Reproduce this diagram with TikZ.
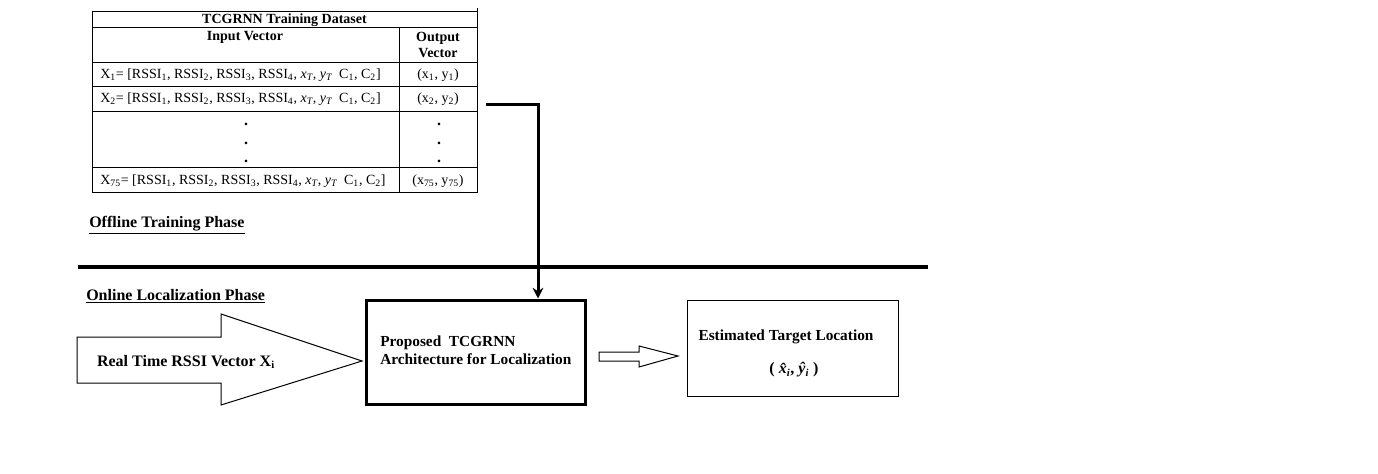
\documentclass[tikz,border=0pt]{standalone}
\usepackage{fontspec}
\setmainfont{Liberation Serif}
\usetikzlibrary{positioning, arrows.meta, calc}

\newcommand{\rssirow}[1]{X\textsubscript{#1}= [RSSI\textsubscript{1}, RSSI\textsubscript{2}, RSSI\textsubscript{3}, RSSI\textsubscript{4}, \textit{x\textsubscript{T}}, \textit{y\textsubscript{T}}~ C\textsubscript{1}, C\textsubscript{2}]}
\newcommand{\estpoint}{(~\textit{\^{x}\textsubscript{i}},~\textit{\^{y}\textsubscript{i}}~)}

\begin{document}
\begin{tikzpicture}[
    x=0.75pt, y=-0.75pt,
    grid/.style={line width=0.75pt},
    cell/.style={inner sep=0pt, font=\fontsize{10.5}{12}\selectfont},
    heading/.style={inner sep=0pt, align=center, font=\fontsize{10.5}{12}\selectfont\bfseries},
    phase/.style={inner sep=0pt, anchor=west, font=\fontsize{12}{14}\selectfont\bfseries},
    boxtext/.style={inner sep=0pt, font=\fontsize{11.5}{13.5}\selectfont\bfseries},
    block/.style={draw, line width=0.75pt},
    conn/.style={line width=2.25pt, -{Stealth[length=8pt, width=8pt]}}
]
    \useasboundingbox (0,0) rectangle (1378,474);

    % Training Dataset Table
    \draw[grid] (92,12) rectangle (477,193);
    \draw[grid] (477,8) -- (477,12);
    \foreach \y in {28,63,87,112,168}
        \draw[grid] (92,\y) -- (477,\y);
    \draw[grid] (399,28) -- (399,193);

    \node[heading] (title) at (284.5,20) {TCGRNN Training Dataset};
    \node[heading] (invec) at (245,37) {Input Vector};
    \node[heading] (outvec) at (438,45) {Output\\Vector};

    \node[cell, anchor=west] (row1) at (100,75) {\rssirow{1}};
    \node[cell, anchor=west] (row2) at (100,99) {\rssirow{2}};
    \node[cell, anchor=west] (row75) at (100,181) {\rssirow{75}};
    \node[cell] (out1) at (438,75) {(x\textsubscript{1}, y\textsubscript{1})};
    \node[cell] (out2) at (438,99) {(x\textsubscript{2}, y\textsubscript{2})};
    \node[cell] (out75) at (438,181) {(x\textsubscript{75}, y\textsubscript{75})};
    \foreach \y [count=\i] in {124,143,161} {
        \node[cell, font=\fontsize{12}{12}\selectfont\bfseries] (dotin\i) at (246,\y) {.};
        \node[cell, font=\fontsize{12}{12}\selectfont\bfseries] (dotout\i) at (439,\y) {.};
    }

    % Phases
    \node[phase] (offline) at (89,225) {\underline{Offline Training Phase}};
    \coordinate (sepL) at (78,267);
    \coordinate (sepR) at (928,267);
    \draw[line width=3pt] (sepL) -- (sepR);
    \node[phase] (online) at (86,296) {\underline{Online Localization Phase}};

    % Localization
    \node[draw, line width=2.25pt, minimum width=164.25pt, minimum height=78pt] (proposed) at (475.5,352) {};
    \node[boxtext, anchor=west, align=left] (proptext) at (380,350) {Proposed~ TCGRNN\\Architecture for Localization};
    \node[block, minimum width=158.25pt, minimum height=72pt] (estimated) at (792.5,348) {};
    \node[boxtext] (esttext) at (786,337) {Estimated Target Location};
    \node[boxtext, font=\fontsize{12}{14}\selectfont\bfseries] (estpos) at (794,370) {\estpoint};

    \draw[block] (77,337) -- (221,337) -- (221,314) -- (362,361)
        -- (221,405) -- (221,383) -- (77,383) -- cycle;
    \node[inner sep=0pt, font=\fontsize{12}{14}\selectfont\bfseries]
        (rssivec) at (186,362) {Real Time RSSI Vector X\textsubscript{i}};
    \draw[block] (599,352) -- (639,352) -- (639,346) -- (678,356)
        -- (639,367) -- (639,361) -- (599,361) -- cycle;

    % Connection
    \coordinate (tabout) at (486,105);
    \coordinate (bend) at (538,105);
    \draw[conn] (tabout) -- (bend) -- (bend |- proposed.north);
\end{tikzpicture}
\end{document}
